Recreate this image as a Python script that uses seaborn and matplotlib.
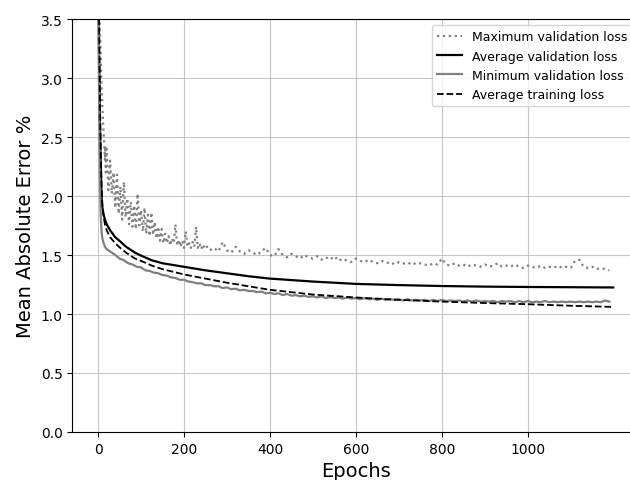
import numpy as np
import matplotlib
matplotlib.use("Agg")
import matplotlib.pyplot as plt
import seaborn as sns

# ---- data -------------------------------------------------------------
# Maximum validation loss (noisy), dense sampling early in training
max_epochs = np.concatenate([np.arange(0, 20, 1), np.arange(20, 260, 4), np.arange(260, 1200, 10)])
max_val_loss = [
    5.20, 4.40, 3.90, 3.60, 3.45, 3.35, 3.20, 3.05, 2.95, 2.85,
    2.75, 2.68, 2.60, 2.52, 2.45, 2.40, 2.30, 2.42, 2.20, 2.38,
    # 20 .. 256, every 4 epochs
    2.40, 2.05, 2.30, 2.02, 2.20, 1.90, 2.18, 1.85, 2.08, 1.80,
    2.12, 1.82, 1.98, 1.76, 1.95, 1.74, 1.92, 1.72, 2.02, 1.75,
    1.88, 1.70, 1.90, 1.68, 1.84, 1.66, 1.86, 1.67, 1.78, 1.64,
    1.74, 1.62, 1.72, 1.60, 1.68, 1.60, 1.66, 1.58, 1.64, 1.60,
    1.76, 1.58, 1.63, 1.57, 1.62, 1.56, 1.70, 1.57, 1.60, 1.56,
    1.61, 1.57, 1.74, 1.56, 1.60, 1.55, 1.59, 1.56, 1.58, 1.55,
    # 260 .. 1190, every 10 epochs
    1.54, 1.56, 1.53, 1.61, 1.54, 1.52, 1.57, 1.53, 1.51, 1.54,
    1.52, 1.50, 1.53, 1.56, 1.50, 1.49, 1.55, 1.50, 1.48, 1.51,
    1.49, 1.47, 1.50, 1.48, 1.47, 1.49, 1.46, 1.48, 1.46, 1.49,
    1.45, 1.47, 1.45, 1.44, 1.47, 1.45, 1.44, 1.46, 1.44, 1.43,
    1.45, 1.43, 1.44, 1.42, 1.44, 1.43, 1.42, 1.44, 1.42, 1.43,
    1.42, 1.41, 1.43, 1.42, 1.47, 1.42, 1.41, 1.43, 1.41, 1.42,
    1.40, 1.42, 1.41, 1.40, 1.42, 1.40, 1.41, 1.43, 1.40, 1.41,
    1.40, 1.42, 1.40, 1.39, 1.41, 1.40, 1.39, 1.41, 1.39, 1.40,
    1.39, 1.41, 1.39, 1.40, 1.39, 1.45, 1.46, 1.40, 1.39, 1.40,
    1.38, 1.39, 1.38, 1.37,
]

# Average validation / training loss (smooth curves)
avg_epochs = [0, 2, 4, 6, 8, 10, 13, 16, 20, 28, 40, 50, 65, 86, 100, 125, 150,
              200, 250, 300, 350, 400, 500, 600, 700, 800, 900, 1000, 1100, 1199]
avg_val_loss = [4.50, 3.30, 2.70, 2.30, 2.00, 1.90, 1.84, 1.80, 1.76, 1.71,
                1.65, 1.62, 1.57, 1.52, 1.495, 1.455, 1.43, 1.40, 1.37, 1.345,
                1.32, 1.30, 1.275, 1.255, 1.245, 1.237, 1.232, 1.229, 1.227, 1.225]
avg_train_loss = [4.80, 3.60, 2.90, 2.40, 2.10, 1.92, 1.82, 1.76, 1.71, 1.65,
                  1.60, 1.565, 1.52, 1.47, 1.45, 1.41, 1.38, 1.335, 1.30, 1.265,
                  1.235, 1.205, 1.165, 1.14, 1.12, 1.105, 1.093, 1.083, 1.07, 1.06]

# Minimum validation loss
min_epochs = np.concatenate([np.arange(0, 20, 2), np.arange(20, 1200, 10)])
min_val_loss = [
    4.00, 3.00, 2.20, 1.85, 1.70, 1.64, 1.61, 1.59, 1.57, 1.56,
    # 20 .. 1190, every 10 epochs
    1.55, 1.525, 1.50, 1.47, 1.455, 1.43, 1.42, 1.40, 1.395, 1.37,
    1.365, 1.35, 1.345, 1.33, 1.325, 1.31, 1.305, 1.29, 1.29, 1.275,
    1.27, 1.26, 1.26, 1.245, 1.245, 1.235, 1.235, 1.22, 1.225, 1.21,
    1.215, 1.20, 1.205, 1.195, 1.195, 1.185, 1.19, 1.175, 1.18, 1.17,
    1.175, 1.16, 1.17, 1.155, 1.16, 1.15, 1.155, 1.145, 1.15, 1.14,
    1.15, 1.135, 1.145, 1.135, 1.14, 1.13, 1.14, 1.13, 1.135, 1.125,
    1.135, 1.125, 1.13, 1.12, 1.13, 1.12, 1.125, 1.12, 1.125, 1.115,
    1.125, 1.115, 1.12, 1.115, 1.12, 1.11, 1.12, 1.11, 1.12, 1.11,
    1.115, 1.11, 1.115, 1.105, 1.115, 1.105, 1.115, 1.105, 1.11, 1.105,
    1.11, 1.10, 1.11, 1.105, 1.11, 1.10, 1.11, 1.10, 1.11, 1.10,
    1.105, 1.10, 1.11, 1.10, 1.105, 1.10, 1.105, 1.10, 1.105, 1.10,
    1.105, 1.10, 1.105, 1.10, 1.105, 1.10, 1.115, 1.105,
]

x_ticks = [0, 200, 400, 600, 800, 1000]
y_ticks = [0.0, 0.5, 1.0, 1.5, 2.0, 2.5, 3.0, 3.5]

# ---- figure -----------------------------------------------------------
plt.rcParams["font.family"] = ["DejaVu Sans"]
fig = plt.figure(figsize=(6.3, 4.81), dpi=100)
ax = fig.add_axes([0.1148, 0.0998, 0.8995, 0.8586])

grey = "#808080"
sns.lineplot(x=max_epochs, y=max_val_loss, ax=ax, color=grey, linestyle=":",
             linewidth=1.6, label="Maximum validation loss")
sns.lineplot(x=avg_epochs, y=avg_val_loss, ax=ax, color="black", linestyle="-",
             linewidth=1.6, label="Average validation loss")
sns.lineplot(x=min_epochs, y=min_val_loss, ax=ax, color=grey, linestyle="-",
             linewidth=1.6, label="Minimum validation loss")
sns.lineplot(x=avg_epochs, y=avg_train_loss, ax=ax, color="black", linestyle="--",
             linewidth=1.3, label="Average training loss")

ax.set_ylim(0, 3.5)
ax.set_xlim(-59.95, 1258.95)
ax.set_xticks(x_ticks)
ax.set_yticks(y_ticks)
ax.tick_params(labelsize=10)
ax.grid(True, color="#b0b0b0", linewidth=0.8, alpha=0.7)
ax.set_axisbelow(True)
ax.set_xlabel("Epochs", fontsize=14)
ax.set_ylabel("Mean Absolute Error %", fontsize=14)
ax.legend(loc="upper right", fontsize=9)

fig.savefig("out.png", dpi=100)
